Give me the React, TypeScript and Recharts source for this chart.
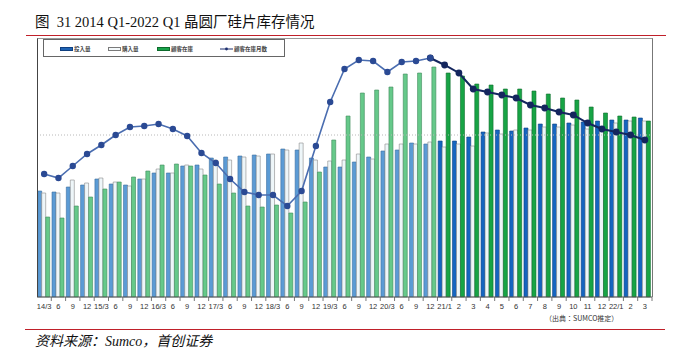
import { ComposedChart, Bar, Line, XAxis, YAxis, ReferenceLine, Cell } from 'recharts';

// ----------------------------------------------------------------------------
// Data (arbitrary units; quarterly to 20/12, then monthly)
// ----------------------------------------------------------------------------

const periods = [
  '14/3', '6', '9', '12', '15/3', '6', '9', '12', '16/3', '6', '9', '12',
  '17/3', '6', '9', '12', '18/3', '6', '9', '12', '19/3', '6', '9', '12',
  '20/3', '6', '9', '12', '21/1', '2', '3', '4', '5', '6', '7', '8', '9',
  '10', '11', '12', '22/1', '2', '3',
];

// 投入量
const inputVol = [
  106, 105, 110, 112, 118, 113, 112, 118, 124, 124, 131, 132,
  139, 140, 141, 142, 143, 148, 147, 139, 130, 130, 135, 140,
  146, 147, 154, 153, 156, 156, 160, 165, 167, 166, 169, 173, 173,
  174, 175, 176, 177, 177, 179,
];

// 購入量
const purchaseVol = [
  104, 104, 117, 114, 119, 115, 111, 118, 128, 124, 132, 128,
  137, 137, 140, 141, 143, 147, 154, 137, 136, 137, 143, 138,
  153, 153, 153, 155, 150, 153, 151, 164, 163, 167, 167, 170, 170,
  172, 168, 168, 174, 176, 176,
];

// 顧客在庫
const customerStock = [
  80, 79, 91, 100, 108, 115, 120, 126, 132, 133, 131, 122,
  113, 104, 91, 90, 92, 84, 95, 125, 157, 181, 204, 207,
  210, 223, 224, 230, 224, 221, 213, 212, 208, 208, 206, 203, 199,
  197, 190, 184, 181, 180, 176,
];

// 顧客在庫月数
const stockMonths = [
  123, 119, 131, 143, 152, 162, 170, 171, 173, 168, 161, 144,
  134, 118, 105, 102, 102, 91, 106, 151, 195, 228, 237, 236,
  225, 235, 236, 239, 232, 224, 208, 205, 202, 199, 192, 189, 185,
  182, 174, 168, 165, 162, 157,
];

const MONTHLY_FROM = 28; // 21/1 onwards drawn in the darker palette
const GUIDE_LEVEL = 162;

const data = periods.map((label, i) => ({
  i,
  label,
  input: inputVol[i],
  purchase: purchaseVol[i],
  stock: customerStock[i],
  monthsA: i <= MONTHLY_FROM - 1 ? stockMonths[i] : null,
  monthsB: i >= MONTHLY_FROM - 1 ? stockMonths[i] : null,
}));

const BAND = 615 / periods.length;

function PeriodTick({ x, y, payload }: any) {
  return (
    <g>
      <line x1={x + BAND / 2} x2={x + BAND / 2} y1={y} y2={y + 4} stroke="#555" strokeWidth={0.8} />
      <text
        x={x}
        y={y + 12}
        textAnchor="middle"
        fontSize={7.5}
        fontFamily="'Liberation Sans', Arial, sans-serif"
        fill="#333"
      >
        {periods[payload.value]}
      </text>
    </g>
  );
}

const legendItems = [
  { name: '投入量', kind: 'bar', fill: '#1e63b4', stroke: '#0f3f80', x: 60 },
  { name: '購入量', kind: 'bar', fill: '#f4f9fb', stroke: '#7a7a7a', x: 108 },
  { name: '顧客在庫', kind: 'bar', fill: '#19a34a', stroke: '#0d6b2c', x: 157 },
  { name: '顧客在庫月数', kind: 'line', fill: '#1c2f6e', stroke: '#1c2f6e', x: 220 },
];

export default function App() {
  return (
    <div style={{ position: 'absolute', left: 0, top: 0, width: 685, height: 357, background: '#fff' }}>
      {/* Title */}
      <div
        style={{
          position: 'absolute',
          left: 35,
          top: 13,
          fontSize: 14.5,
          lineHeight: '18px',
          whiteSpace: 'pre',
          fontFamily: "'Liberation Serif', 'Noto Sans CJK SC', serif",
          color: '#111',
        }}
      >
        {'图  31 2014 Q1-2022 Q1 晶圆厂硅片库存情况'}
      </div>
      <div style={{ position: 'absolute', left: 26, top: 34.5, width: 640, height: 1.5, background: '#c0202a' }} />

      <ComposedChart
        width={685}
        height={357}
        data={data}
        margin={{ top: 37, right: 33, bottom: 48, left: 37 }}
        barCategoryGap={0.7}
        barGap={0}
      >
        <XAxis
          dataKey="i"
          type="category"
          height={12}
          interval={0}
          tickSize={0}
          tickMargin={0}
          tickLine={false}
          axisLine={{ stroke: '#555' }}
          tick={<PeriodTick />}
        />
        <YAxis hide domain={[0, 260]} />
        <ReferenceLine y={GUIDE_LEVEL} stroke="#b8b8b8" strokeDasharray="1 2" />
        <Bar dataKey="input" isAnimationActive={false} strokeWidth={0.6}>
          {data.map((d) => (
            <Cell
              key={`in-${d.i}`}
              fill={d.i >= MONTHLY_FROM ? '#1565c0' : '#5b9bd5'}
              stroke={d.i >= MONTHLY_FROM ? '#0d3f80' : '#3d6fa0'}
            />
          ))}
        </Bar>
        <Bar dataKey="purchase" isAnimationActive={false} fill="#eef6f9" stroke="#8a8a8a" strokeWidth={0.6} />
        <Bar dataKey="stock" isAnimationActive={false} strokeWidth={0.6}>
          {data.map((d) => (
            <Cell
              key={`st-${d.i}`}
              fill={d.i >= MONTHLY_FROM ? '#17a445' : '#66c98a'}
              stroke={d.i >= MONTHLY_FROM ? '#0d6b2c' : '#3f8a5a'}
            />
          ))}
        </Bar>
        <Line
          dataKey="monthsB"
          isAnimationActive={false}
          stroke="#14265e"
          strokeWidth={2}
          dot={{ r: 2.4, fill: '#14265e', stroke: '#14265e' }}
          connectNulls={false}
        />
        <Line
          dataKey="monthsA"
          isAnimationActive={false}
          stroke="#4a6db0"
          strokeWidth={1.6}
          dot={{ r: 2.4, fill: '#2b4a94', stroke: '#2b4a94' }}
          connectNulls={false}
        />
      </ComposedChart>

      {/* Plot frame */}
      <div
        style={{
          position: 'absolute',
          left: 37,
          top: 38,
          width: 614,
          height: 258,
          borderTop: '1px solid #999',
          borderRight: '1px solid #777',
          borderLeft: '1px solid #444',
          pointerEvents: 'none',
        }}
      />

      {/* Legend */}
      <div
        style={{
          position: 'absolute',
          left: 43,
          top: 39,
          width: 240,
          height: 16,
          border: '1px solid #666',
          background: '#fff',
        }}
      />
      {legendItems.map((it) => (
        <div
          key={it.name}
          style={{
            position: 'absolute',
            left: it.x,
            top: 44,
            height: 10,
            display: 'flex',
            alignItems: 'center',
            fontSize: 5.5,
            fontWeight: 'bold',
            fontFamily: "'Noto Sans CJK JP', sans-serif",
            color: '#444',
            whiteSpace: 'nowrap',
          }}
        >
          {it.kind === 'bar' ? (
            <span
              style={{
                display: 'inline-block',
                width: 11,
                height: 2.5,
                background: it.fill,
                border: `0.6px solid ${it.stroke}`,
                marginRight: 1,
              }}
            />
          ) : (
            <svg width={13} height={6} style={{ marginRight: 1 }}>
              <line x1={0} x2={13} y1={3} y2={3} stroke={it.stroke} strokeWidth={1} />
              <circle cx={6.5} cy={3} r={1.4} fill={it.fill} />
            </svg>
          )}
          {it.name}
        </div>
      ))}

      {/* Source note inside the chart */}
      <div
        style={{
          position: 'absolute',
          left: 545,
          top: 313,
          fontSize: 7,
          fontFamily: "'Noto Sans CJK JP', sans-serif",
          color: '#333',
          whiteSpace: 'nowrap',
        }}
      >
        （出典：SUMCO推定）
      </div>

      {/* Footer */}
      <div style={{ position: 'absolute', left: 25, top: 328.5, width: 640, height: 1.5, background: '#c0202a' }} />
      <div
        style={{
          position: 'absolute',
          left: 35,
          top: 333,
          fontSize: 14,
          lineHeight: '18px',
          fontStyle: 'italic',
          whiteSpace: 'nowrap',
          fontFamily: "'Liberation Serif', 'Noto Sans CJK SC', serif",
          color: '#111',
        }}
      >
        资料来源：Sumco，首创证券
      </div>
    </div>
  );
}
